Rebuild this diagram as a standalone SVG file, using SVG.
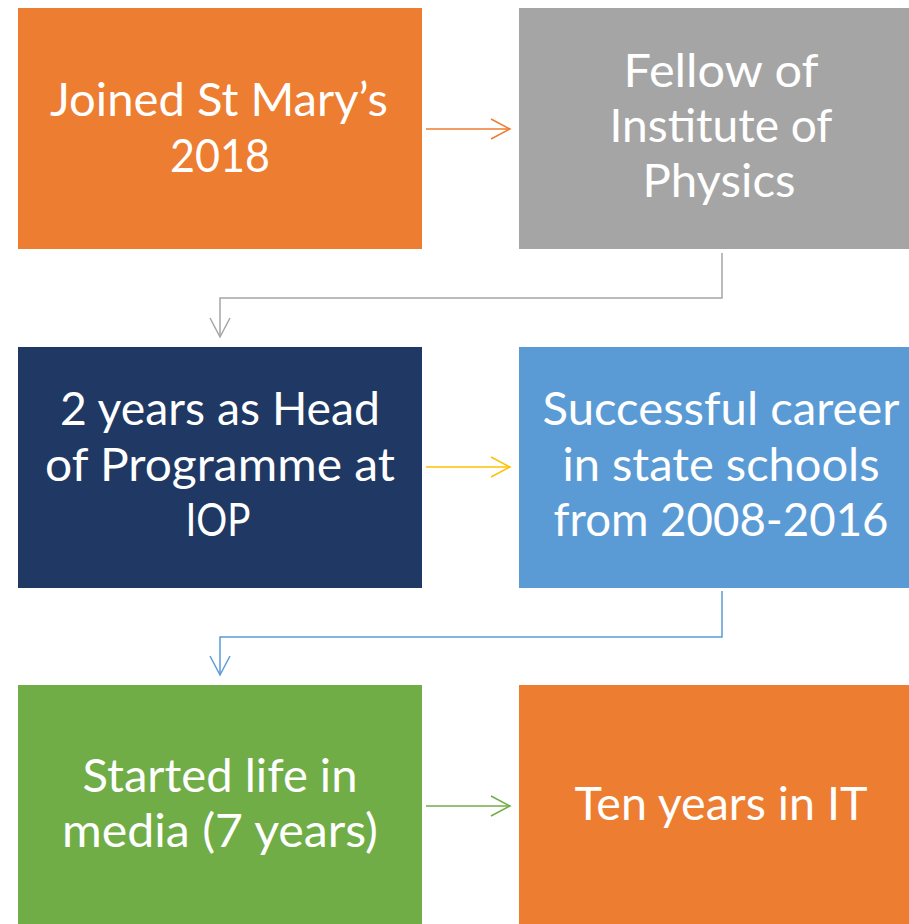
<svg xmlns="http://www.w3.org/2000/svg" width="909" height="924" viewBox="0 0 909 924">
<style>
.lbl{font-family:Lato,"Open Sans","Noto Sans",sans-serif;font-size:47px;fill:#ffffff;text-anchor:middle}
.con{fill:none;stroke-width:1.5}
</style>
<defs>
<marker id="a-or" markerWidth="22" markerHeight="24" refX="20" refY="11" orient="auto" markerUnits="userSpaceOnUse"><path d="M1,1 L20,11 L1,21" fill="none" stroke="#ED7D31" stroke-width="1.5"/></marker>
<marker id="a-gr" markerWidth="22" markerHeight="24" refX="20" refY="11" orient="auto" markerUnits="userSpaceOnUse"><path d="M1,1 L20,11 L1,21" fill="none" stroke="#A5A5A5" stroke-width="1.5"/></marker>
<marker id="a-ye" markerWidth="22" markerHeight="24" refX="20" refY="11" orient="auto" markerUnits="userSpaceOnUse"><path d="M1,1 L20,11 L1,21" fill="none" stroke="#FFC000" stroke-width="1.5"/></marker>
<marker id="a-bl" markerWidth="22" markerHeight="24" refX="20" refY="11" orient="auto" markerUnits="userSpaceOnUse"><path d="M1,1 L20,11 L1,21" fill="none" stroke="#5B9BD5" stroke-width="1.5"/></marker>
<marker id="a-gn" markerWidth="22" markerHeight="24" refX="20" refY="11" orient="auto" markerUnits="userSpaceOnUse"><path d="M1,1 L20,11 L1,21" fill="none" stroke="#70AD47" stroke-width="1.5"/></marker>
</defs>
<rect width="909" height="924" fill="#ffffff"/>
<g id="connectors">
<path class="con" stroke="#ED7D31" d="M426,129 L510,129" marker-end="url(#a-or)"/>
<path class="con" stroke="#A5A5A5" d="M722,253 L722,298 L220,298 L220,337" marker-end="url(#a-gr)"/>
<path class="con" stroke="#FFC000" d="M426,467 L510,467" marker-end="url(#a-ye)"/>
<path class="con" stroke="#5B9BD5" d="M722,591 L722,637 L220,637 L220,675" marker-end="url(#a-bl)"/>
<path class="con" stroke="#70AD47" d="M426,806 L510,806" marker-end="url(#a-gn)"/>
</g>
<g id="node1">
<rect x="18" y="8" width="404" height="241" fill="#ED7D31"/>
<text class="lbl" x="219" y="116" textLength="338" lengthAdjust="spacingAndGlyphs">Joined St Mary’s</text>
<text class="lbl" x="220" y="172" textLength="100" lengthAdjust="spacingAndGlyphs">2018</text>
</g>
<g id="node2">
<rect x="519" y="8" width="404" height="241" fill="#A5A5A5"/>
<text class="lbl" x="721" y="87" textLength="195" lengthAdjust="spacingAndGlyphs">Fellow of</text>
<text class="lbl" x="721" y="142" textLength="223" lengthAdjust="spacingAndGlyphs">Institute of</text>
<text class="lbl" x="719" y="197" textLength="153" lengthAdjust="spacingAndGlyphs">Physics</text>
</g>
<g id="node3">
<rect x="18" y="347" width="404" height="241" fill="#203864"/>
<text class="lbl" x="220" y="425" textLength="320" lengthAdjust="spacingAndGlyphs">2 years as Head</text>
<text class="lbl" x="220" y="481" textLength="350" lengthAdjust="spacingAndGlyphs">of Programme at</text>
<text class="lbl" x="218" y="536" textLength="65" lengthAdjust="spacingAndGlyphs">IOP</text>
</g>
<g id="node4">
<rect x="519" y="347" width="404" height="241" fill="#5B9BD5"/>
<text class="lbl" x="721" y="425" textLength="357" lengthAdjust="spacingAndGlyphs">Successful career</text>
<text class="lbl" x="721" y="481" textLength="317" lengthAdjust="spacingAndGlyphs">in state schools</text>
<text class="lbl" x="721" y="536" textLength="335" lengthAdjust="spacingAndGlyphs">from 2008-2016</text>
</g>
<g id="node5">
<rect x="18" y="685" width="404" height="241" fill="#70AD47"/>
<text class="lbl" x="220" y="792" textLength="275" lengthAdjust="spacingAndGlyphs">Started life in</text>
<text class="lbl" x="220" y="847" textLength="316" lengthAdjust="spacingAndGlyphs">media (7 years)</text>
</g>
<g id="node6">
<rect x="519" y="685" width="404" height="241" fill="#ED7D31"/>
<text class="lbl" x="721" y="820" textLength="293" lengthAdjust="spacingAndGlyphs">Ten years in IT</text>
</g>
</svg>
